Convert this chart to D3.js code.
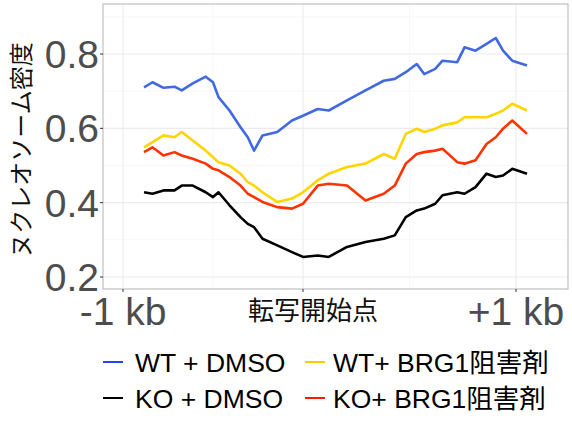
<!DOCTYPE html>
<html><head><meta charset="utf-8">
<script src="https://cdn.jsdelivr.net/npm/d3@7"></script>
<style>body{margin:0;background:#fff}</style>
</head><body><svg id="c" width="572" height="433"></svg>
<script>
const xs=[-893,-850,-794,-738,-701,-645,-579,-542,-514,-458,-402,-365,-333,-290,-215,-140,-84,-9,47,140,234,327,383,439,495,533,589,626,701,738,794,850,897,934,981,1056];
const wtDmso=[.710,.724,.709,.712,.702,.721,.739,.724,.684,.648,.603,.576,.540,.581,.590,.621,.634,.652,.648,.675,.702,.728,.733,.751,.773,.746,.760,.782,.778,.818,.809,.827,.843,.809,.782,.769];
const wtBrg=[.549,.563,.581,.576,.590,.567,.540,.522,.509,.500,.478,.455,.446,.428,.402,.411,.428,.460,.478,.496,.505,.531,.518,.585,.599,.590,.599,.608,.616,.630,.630,.630,.639,.648,.666,.648];
const koBrg=[.536,.549,.527,.536,.527,.518,.505,.491,.487,.469,.446,.424,.415,.402,.388,.384,.397,.446,.451,.446,.406,.424,.446,.505,.531,.536,.540,.545,.509,.505,.514,.558,.576,.599,.621,.585];
const koDmso=[.428,.424,.433,.433,.446,.446,.428,.415,.428,.393,.361,.343,.334,.303,.285,.267,.254,.258,.254,.281,.294,.303,.312,.361,.379,.384,.397,.420,.428,.424,.442,.478,.469,.473,.491,.478];
const yTicks=[0.2,0.4,0.6,0.8];
const xTicks=[-1000,-84,1000];
const xMinor=[-542,458];
const xTickLabels=["-1 kb","転写開始点","+1 kb"];
const series=[
 {name:"WT + DMSO",vals:wtDmso,color:"#4169E1",key:"#2244ff"},
 {name:"WT+ BRG1阻害剤",vals:wtBrg,color:"#FFD500",key:"#FFC800"},
 {name:"KO + DMSO",vals:koDmso,color:"#000000",key:"#000000"},
 {name:"KO+ BRG1阻害剤",vals:koBrg,color:"#FF3300",key:"#FF1a00"}];
const F='"Liberation Sans","Noto Sans CJK JP",sans-serif';
const svg=d3.select("#c");
const L=103,R=568,T=4,B=289;
const x=d3.scaleLinear().domain([-1000,1000]).range([123,516]);
x.domain([x.invert(L),x.invert(R)]).range([L,R]);
const y=d3.scaleLinear().domain([0.2,0.8]).range([277,54]);
y.domain([y.invert(B),y.invert(T)]).range([B,T]);
[0.3,0.5,0.7,0.9].forEach(v=>svg.append("line").attr("x1",L).attr("x2",R).attr("y1",y(v)).attr("y2",y(v)).attr("stroke","#f3f3f3").attr("stroke-width",0.6));
xMinor.forEach(v=>svg.append("line").attr("y1",T).attr("y2",B).attr("x1",x(v)).attr("x2",x(v)).attr("stroke","#f3f3f3").attr("stroke-width",0.6));
yTicks.forEach(v=>svg.append("line").attr("x1",L).attr("x2",R).attr("y1",y(v)).attr("y2",y(v)).attr("stroke","#ebebeb").attr("stroke-width",1.1));
xTicks.forEach(v=>svg.append("line").attr("y1",T).attr("y2",B).attr("x1",x(v)).attr("x2",x(v)).attr("stroke","#ebebeb").attr("stroke-width",1.1));
svg.append("rect").attr("x",L).attr("y",T).attr("width",R-L).attr("height",B-T).attr("fill","none").attr("stroke","#b3b3b3").attr("stroke-width",1);
yTicks.forEach(v=>{svg.append("line").attr("x1",L-3).attr("x2",L).attr("y1",y(v)).attr("y2",y(v)).attr("stroke","#333");
 svg.append("text").attr("x",L-4).attr("y",y(v)).attr("dy","0.36em").attr("text-anchor","end").attr("font-size",39).attr("fill","#4d4d4d").style("font-family",F).text(v.toFixed(1));});
xTicks.forEach((v,i)=>{svg.append("line").attr("y1",B).attr("y2",B+3).attr("x1",x(v)).attr("x2",x(v)).attr("stroke","#333");
 const t=svg.append("text").attr("x",i==1?313:x(v)).attr("text-anchor","middle").style("font-family",F).text(xTickLabels[i]);
 if(i==1) t.attr("y",320).attr("font-size",26).attr("fill","#111"); else t.attr("y",325).attr("font-size",39).attr("fill","#4d4d4d");});
svg.append("text").attr("transform","translate(30,150) rotate(-90)").attr("text-anchor","middle").attr("font-size",24).attr("fill","#111").style("font-family",F).text("ヌクレオソーム密度");
const line=d3.line().x((d,i)=>x(xs[i])).y(d=>y(d));
series.forEach(s=>svg.append("path").attr("d",line(s.vals)).attr("fill","none").attr("stroke",s.color).attr("stroke-width",2.6).attr("stroke-linejoin","round"));
const pos=[[103,362],[305,362],[103,398],[305,398]];
series.forEach((s,i)=>{const [lx,ly]=pos[i];
 svg.append("line").attr("x1",lx).attr("x2",lx+20).attr("y1",ly).attr("y2",ly).attr("stroke",s.key).attr("stroke-width",2);
 svg.append("text").attr("x",lx+(i%2?28:32)).attr("y",ly).attr("dy","0.36em").attr("font-size",26.5).attr("fill","#000").style("font-family",F).text(s.name);});
</script></body></html>
